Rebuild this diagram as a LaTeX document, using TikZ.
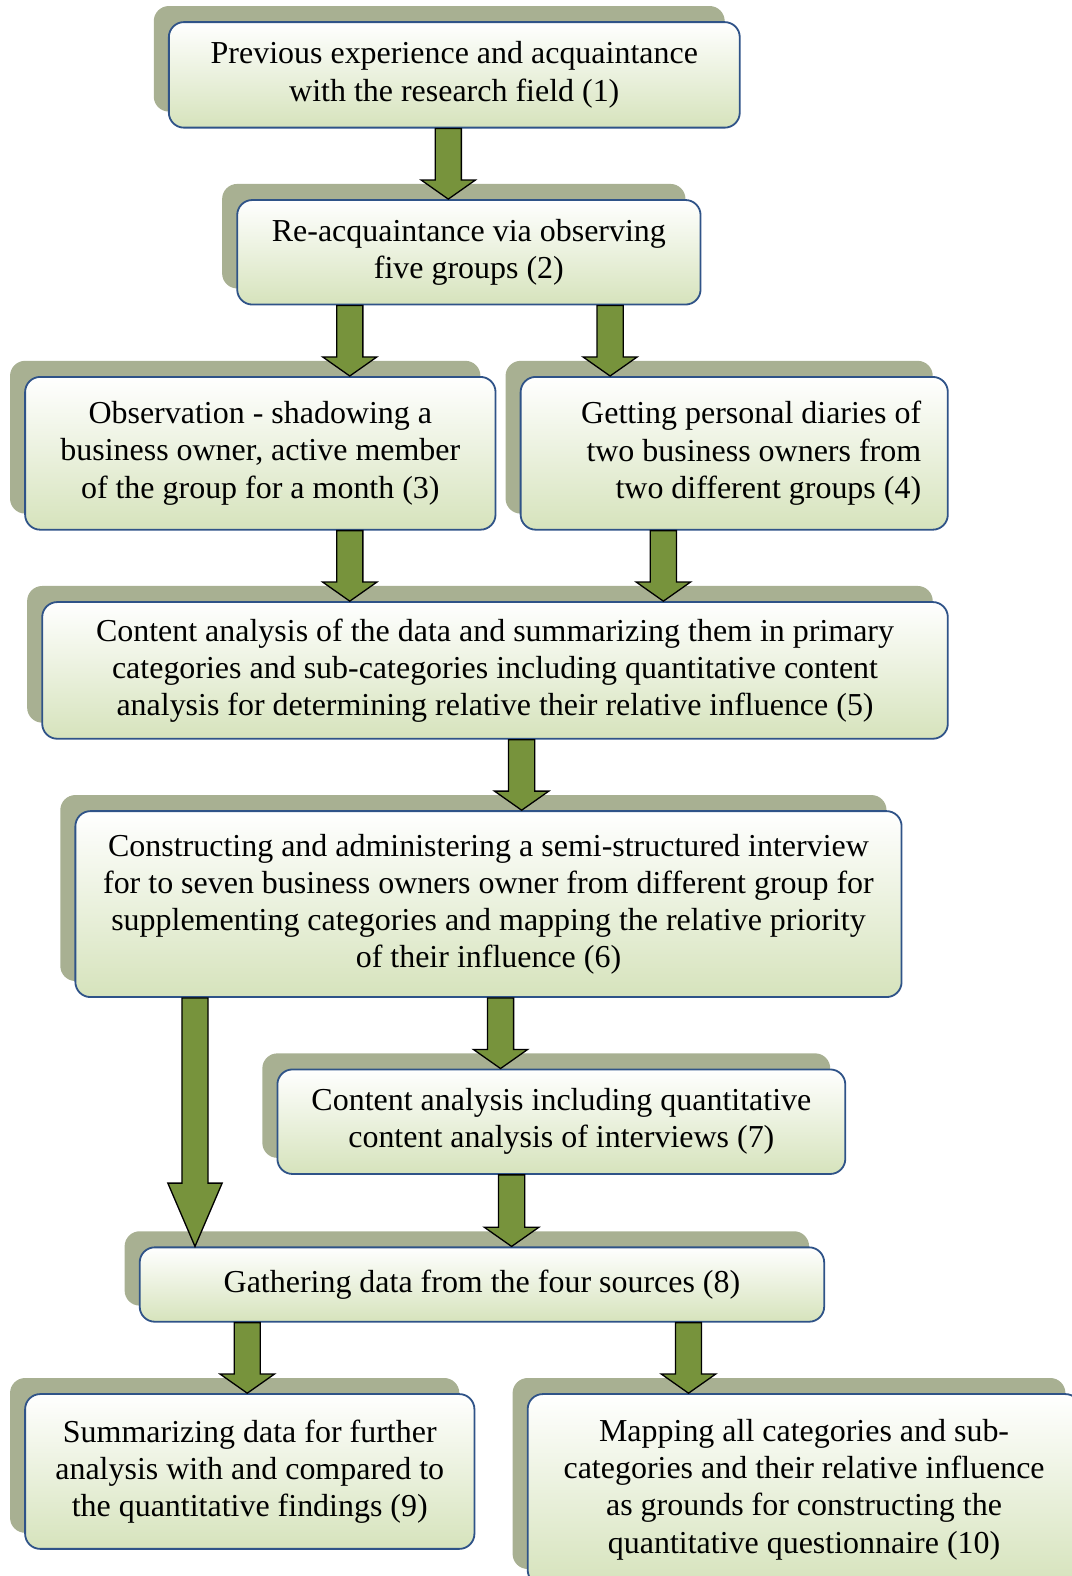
\documentclass[tikz,border=0pt]{standalone}
\usepackage{fontspec}
\setmainfont{Liberation Serif}
\usetikzlibrary{calc,shadows}
\definecolor{edgeblue}{HTML}{2F5388}
\definecolor{leafsoft}{HTML}{D6E3BC}
\definecolor{olivedrop}{HTML}{A8B092}
\definecolor{olivearr}{HTML}{77933C}
\tikzset{
  stagebox/.style={draw=edgeblue,line width=1.8pt,rounded corners=15pt,top color=white,bottom color=leafsoft,
    align=center,inner sep=0pt,general shadow={fill=olivedrop,shadow xshift=-15pt,shadow yshift=16pt}},
  flowarr/.style={draw=black,fill=olivearr,line width=1.3pt,line join=miter}
}
% block arrow: [head length]{x}{from node}{to node}
\newcommand{\flowarrow}[4][19]{%
  \draw[flowarr] let \p1=(#3.south), \p2=(#4.north) in
    (#2-13,\y1) -- (#2+13,\y1) -- (#2+13,\y2+#1) -- (#2+27,\y2+#1) -- (#2,\y2)
    -- (#2-27,\y2+#1) -- (#2-13,\y2+#1) -- cycle;}

\begin{document}
\begin{tikzpicture}[x=1pt,y=-1pt,font=\fontsize{31.8}{37}\selectfont]
  \useasboundingbox (0,0) rectangle (1066,1568);
  \node[stagebox,minimum width=568,minimum height=105] (prev) at (452,74.5)
     {Previous experience and acquaintance\\with the research field (1)};
  \node[stagebox,minimum width=461,minimum height=104] (reacq) at (466.5,251)
     {Re-acquaintance via observing\\five groups (2)};
  \node[stagebox,minimum width=468,minimum height=152] (observe) at (259,451)
     {Observation - shadowing a\\business owner, active member\\of the group for a month (3)};
  \node[stagebox,minimum width=425,minimum height=152,text width=372,align=flush right] (diaries) at (730.5,451)
     {Getting personal diaries of\\two business owners from\\two different groups (4)};
  \node[stagebox,minimum width=901,minimum height=136] (contenta) at (492.5,667)
     {Content analysis of the data and summarizing them in primary\\categories and sub-categories including quantitative content\\analysis for determining relative their relative influence (5)};
  \node[stagebox,minimum width=822,minimum height=185] (interview) at (486,899.5)
     {Constructing and administering a semi-structured interview\\for to seven business owners owner from different group for\\supplementing categories and mapping the relative priority\\of their influence (6)};
  \node[stagebox,minimum width=565,minimum height=104] (contentb) at (558.5,1116)
     {Content analysis including quantitative\\content analysis of interviews (7)};
  \node[stagebox,minimum width=681,minimum height=74] (gather) at (479.5,1278)
     {Gathering data from the four sources (8)};
  \node[stagebox,minimum width=447,minimum height=154] (summary) at (248.5,1464)
     {Summarizing data for further\\analysis with and compared to\\the quantitative findings (9)};
  \node[stagebox,minimum width=550,minimum height=190] (mapping) at (800,1482)
     {Mapping all categories and sub-\\categories and their relative influence\\as grounds for constructing the\\quantitative questionnaire (10)};
  \flowarrow{446}{prev}{reacq}
  \flowarrow{348}{reacq}{observe}
  \flowarrow{607}{reacq}{diaries}
  \flowarrow{348}{observe}{contenta}
  \flowarrow{660}{diaries}{contenta}
  \flowarrow{519}{contenta}{interview}
  \flowarrow[63]{194}{interview}{gather}
  \flowarrow{498}{interview}{contentb}
  \flowarrow{509}{contentb}{gather}
  \flowarrow{246}{gather}{summary}
  \flowarrow{685}{gather}{mapping}
\end{tikzpicture}
\end{document}
